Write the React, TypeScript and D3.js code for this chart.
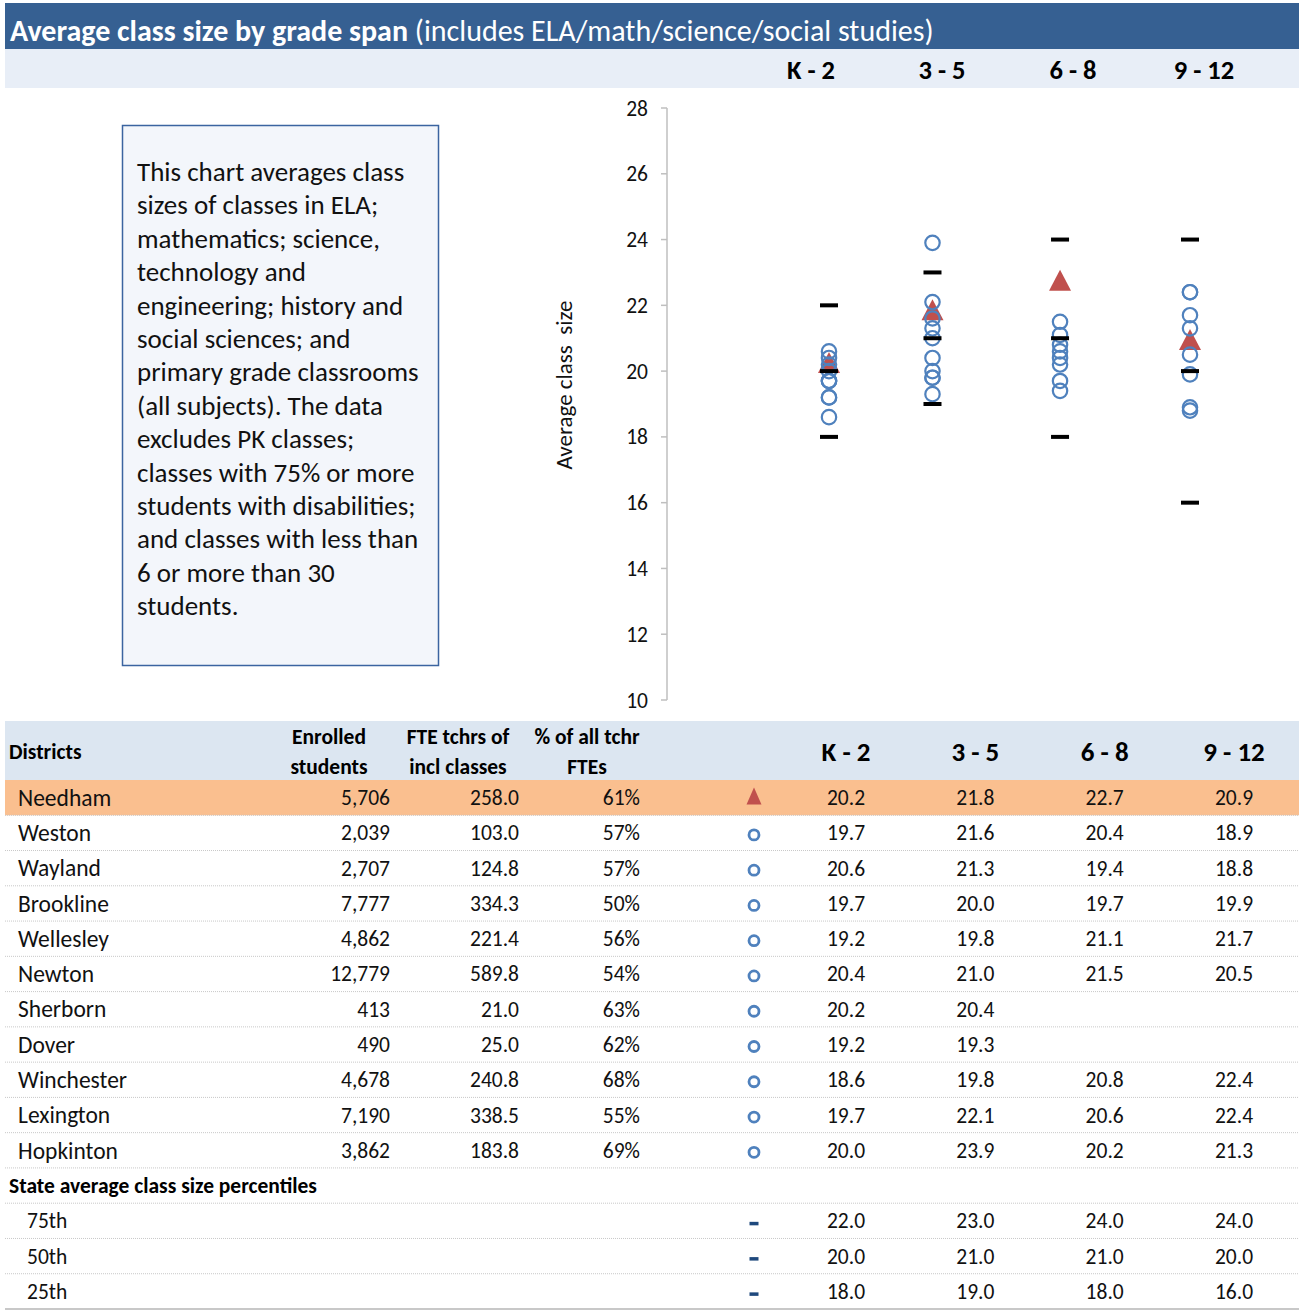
import React from "react";
import * as d3 from "d3";

// ---- data ----
const gradeSpans = ["K - 2", "3 - 5", "6 - 8", "9 - 12"];
// x values of the scatter columns, one per grade span
const spanX = [1, 1.86, 2.92, 4];

const districts = [
  "Needham", "Weston", "Wayland", "Brookline", "Wellesley", "Newton",
  "Sherborn", "Dover", "Winchester", "Lexington", "Hopkinton",
];
const enrolled = [5706, 2039, 2707, 7777, 4862, 12779, 413, 490, 4678, 7190, 3862];
const fteTeachers = [258.0, 103.0, 124.8, 334.3, 221.4, 589.8, 21.0, 25.0, 240.8, 338.5, 183.8];
const pctOfFte = [61, 57, 57, 50, 56, 54, 63, 62, 68, 55, 69];

const sizeK2 = [20.2, 19.7, 20.6, 19.7, 19.2, 20.4, 20.2, 19.2, 18.6, 19.7, 20.0];
const size35 = [21.8, 21.6, 21.3, 20.0, 19.8, 21.0, 20.4, 19.3, 19.8, 22.1, 23.9];
const size68 = [22.7, 20.4, 19.4, 19.7, 21.1, 21.5, null, null, 20.8, 20.6, 20.2];
const size912 = [20.9, 18.9, 18.8, 19.9, 21.7, 20.5, null, null, 22.4, 22.4, 21.3];
const spanSeries = [sizeK2, size35, size68, size912];

const percentileLabels = ["75th", "50th", "25th"];
const p75 = [22.0, 23.0, 24.0, 24.0];
const p50 = [20.0, 21.0, 21.0, 20.0];
const p25 = [18.0, 19.0, 18.0, 16.0];
const percentileSeries = [p75, p50, p25];

const yTicks = d3.range(10, 29, 2);

const noteLines = [
  "This chart averages class",
  "sizes of classes in ELA;",
  "mathematics; science,",
  "technology and",
  "engineering; history and",
  "social sciences; and",
  "primary grade classrooms",
  "(all subjects). The data",
  "excludes PK classes;",
  "classes with 75% or more",
  "students with disabilities;",
  "and classes with less than",
  "6 or more than 30",
  "students.",
];

// ---- styling ----
const W = 1299;
const H = 1310;
const FONT = "Calibri, Carlito, Lato, 'Open Sans', sans-serif";
const BLUE = "#4f81bd";
const RED = "#c0504d";
const NAVY = "#1f497d";

const fmtInt = d3.format(",");
const fmt1 = d3.format(".1f");

function trianglePath(cx: number, cy: number, w: number, h: number) {
  const p = d3.path();
  p.moveTo(cx, cy - h * 0.6);
  p.lineTo(cx + w / 2, cy + h * 0.4);
  p.lineTo(cx - w / 2, cy + h * 0.4);
  p.closePath();
  return p.toString();
}

export default function App() {
  // plot scales
  const y = d3.scaleLinear().domain([10, 28]).range([700, 108]);
  const x = d3.scaleLinear().domain([1, 4]).range([829, 1190]);
  const axisX = 667;

  // table scales
  const colX = d3.scalePoint<string>().domain(gradeSpans).range([846, 1234]);
  const topHeaderX = d3.scalePoint<string>().domain(gradeSpans).range([811, 1204]);
  const rowCount = districts.length + 1 + percentileLabels.length;
  const rowBand = d3.scaleBand<number>().domain(d3.range(rowCount)).range([780, 1309]);
  const rowMid = (i: number) => (rowBand(i) as number) + rowBand.bandwidth() / 2;
  const markerX = 754;

  const needhamIdx = 0;

  return (
    <div style={{ position: "absolute", left: 0, top: 0 }}>
      <svg width={W} height={H} style={{ display: "block", fontFamily: FONT }}>
        <rect x={0} y={0} width={W} height={H} fill="#ffffff" />

        {/* title bar */}
        <rect x={5} y={3} width={W - 5} height={46} fill="#366092" />
        <text x={10} y={41} fill="#ffffff" fontSize={30}>
          <tspan fontWeight="bold">Average class size by grade span</tspan>
          <tspan> (includes ELA/math/science/social studies)</tspan>
        </text>
        <rect x={5} y={49} width={W - 5} height={39} fill="#e8eef7" />
        {gradeSpans.map((g) => (
          <text key={g} x={topHeaderX(g)} y={79} textAnchor="middle" fontSize={26.5} fontWeight="bold" fill="#000">
            {g}
          </text>
        ))}

        {/* note box */}
        <rect x={122.5} y={125.5} width={316} height={540} fill="#f3f6fb" stroke="#3b64a0" strokeWidth={1.5} />
        {noteLines.map((line, i) => (
          <text key={i} x={137} y={181 + i * 33.4} fontSize={27} fill="#111">
            {line}
          </text>
        ))}

        {/* y axis */}
        <line x1={axisX} x2={axisX} y1={y(28)} y2={y(10)} stroke="#bfbfbf" strokeWidth={1.5} />
        {yTicks.map((t) => (
          <g key={t}>
            <line x1={axisX - 6} x2={axisX} y1={y(t)} y2={y(t)} stroke="#bfbfbf" strokeWidth={1.5} />
            <text x={648} y={y(t)} dy="0.35em" textAnchor="end" fontSize={21.5} fill="#111">
              {t}
            </text>
          </g>
        ))}
        <text
          transform={`translate(572, 385) rotate(-90)`}
          textAnchor="middle"
          fontSize={23}
          fill="#111"
          style={{ whiteSpace: "pre" }}
        >
          {"Average class  size"}
        </text>

        {/* Needham triangles */}
        {spanSeries.map((s, j) =>
          s[needhamIdx] == null ? null : (
            <path key={`tri-${j}`} d={trianglePath(x(spanX[j]), y(s[needhamIdx] as number), 22, 21)} fill={RED} />
          )
        )}
        {/* comparison districts */}
        {spanSeries.map((s, j) =>
          s.map((v, i) =>
            i === needhamIdx || v == null ? null : (
              <circle key={`c-${j}-${i}`} cx={x(spanX[j])} cy={y(v)} r={7.2} fill="none" stroke={BLUE} strokeWidth={2.2} />
            )
          )
        )}
        {/* state percentiles */}
        {percentileSeries.map((s, k) =>
          s.map((v, j) => (
            <rect key={`p-${k}-${j}`} x={x(spanX[j]) - 9} y={y(v) - 2} width={18} height={4} fill="#000" />
          ))
        )}

        {/* table header */}
        <rect x={5} y={721} width={W - 5} height={59} fill="#dce6f1" />
        <g fontWeight="bold" fontSize={21.5} fill="#000">
          <text x={9} y={759}>Districts</text>
          <text x={329} y={744} textAnchor="middle">Enrolled</text>
          <text x={329} y={774} textAnchor="middle">students</text>
          <text x={458} y={744} textAnchor="middle">FTE tchrs of</text>
          <text x={458} y={774} textAnchor="middle">incl classes</text>
          <text x={587} y={744} textAnchor="middle">% of all tchr</text>
          <text x={587} y={774} textAnchor="middle">FTEs</text>
        </g>
        {gradeSpans.map((g) => (
          <text key={`h-${g}`} x={colX(g)} y={761} textAnchor="middle" fontSize={27} fontWeight="bold" fill="#000">
            {g}
          </text>
        ))}

        {/* highlighted row */}
        <rect x={5} y={rowBand(needhamIdx)} width={W - 5} height={rowBand.bandwidth()} fill="#fabf8f" />

        {/* row separators */}
        {d3.range(rowCount - 1).map((i) => (
          <line
            key={`sep-${i}`}
            x1={5}
            x2={W}
            y1={(rowBand(i) as number) + rowBand.bandwidth()}
            y2={(rowBand(i) as number) + rowBand.bandwidth()}
            stroke="#c8c8c8"
            strokeWidth={1}
            strokeDasharray="1 1"
          />
        ))}
        <line x1={5} x2={W} y1={1309} y2={1309} stroke="#c8c8c8" strokeWidth={2} />

        {/* district rows */}
        {districts.map((d, i) => {
          const cy = rowMid(i);
          return (
            <g key={d} fontSize={21.5} fill="#111">
              <text x={18} y={cy} dy="0.35em" fontSize={23.5}>{d}</text>
              <text x={390} y={cy} dy="0.35em" textAnchor="end">{fmtInt(enrolled[i])}</text>
              <text x={519} y={cy} dy="0.35em" textAnchor="end">{fmt1(fteTeachers[i])}</text>
              <text x={640} y={cy} dy="0.35em" textAnchor="end">{`${pctOfFte[i]}%`}</text>
              {i === needhamIdx ? (
                <path d={trianglePath(markerX, cy, 15, 17)} fill={RED} />
              ) : (
                <circle cx={markerX} cy={cy + 2} r={5} fill="none" stroke={BLUE} strokeWidth={2.8} />
              )}
              {spanSeries.map((s, j) =>
                s[i] == null ? null : (
                  <text key={j} x={colX(gradeSpans[j])} y={cy} dy="0.35em" textAnchor="middle">
                    {fmt1(s[i] as number)}
                  </text>
                )
              )}
            </g>
          );
        })}

        {/* state percentiles */}
        <text x={9} y={rowMid(districts.length)} dy="0.35em" fontSize={21.5} fontWeight="bold" fill="#000">
          State average class size percentiles
        </text>
        {percentileLabels.map((lab, k) => {
          const cy = rowMid(districts.length + 1 + k);
          return (
            <g key={lab} fontSize={21.5} fill="#111">
              <text x={27} y={cy} dy="0.35em">{lab}</text>
              <rect x={markerX - 4.5} y={cy + 1} width={9} height={3.5} fill={NAVY} />
              {percentileSeries[k].map((v, j) => (
                <text key={j} x={colX(gradeSpans[j])} y={cy} dy="0.35em" textAnchor="middle">
                  {fmt1(v)}
                </text>
              ))}
            </g>
          );
        })}
      </svg>
    </div>
  );
}
